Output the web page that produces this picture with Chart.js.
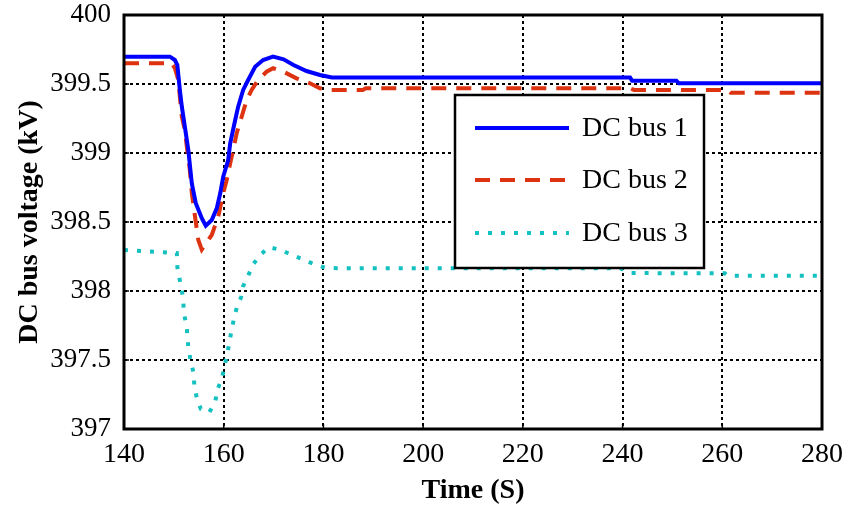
<!DOCTYPE html>
<html><head><meta charset="utf-8">
<script src="https://cdn.jsdelivr.net/npm/chart.js@4.4.1/dist/chart.umd.min.js"></script>
<style>html,body{margin:0;padding:0;background:#fff}#wrap{width:848px;height:508px}</style>
</head><body><div id="wrap"><canvas id="c" width="848" height="508"></canvas></div>
<script>
const seriesLabels = ['DC bus 1', 'DC bus 2', 'DC bus 3'];
const xTitle = 'Time (S)';
const yTitle = 'DC bus voltage (kV)';
const xTicks = [140, 160, 180, 200, 220, 240, 260, 280];
const yTicks = [397, 397.5, 398, 398.5, 399, 399.5, 400];

const bus1Time = [140, 149.2, 150.2, 150.7, 151.2, 151.6, 152.2, 152.9, 153.6, 154.4, 155.6, 156.4, 157.6, 158.6, 159.3, 159.9, 160.9, 161.3, 162.3, 162.9, 163.9, 164.9, 166.3, 167.9, 169.9, 172.0, 174.0, 176.6, 179.3, 181.7, 241.5, 241.9, 250.8, 251.3, 280];
const bus1Voltage = [399.698, 399.698, 399.674, 399.638, 399.457, 399.336, 399.191, 399.022, 398.780, 398.636, 398.527, 398.473, 398.514, 398.599, 398.708, 398.828, 398.949, 399.070, 399.239, 399.336, 399.457, 399.529, 399.625, 399.674, 399.698, 399.679, 399.638, 399.594, 399.565, 399.547, 399.547, 399.524, 399.524, 399.505, 399.505];

const bus2Time = [140, 149.6, 150.2, 150.9, 151.2, 151.6, 152.2, 152.6, 153.2, 153.6, 154.2, 154.9, 155.6, 157.6, 158.9, 159.9, 160.6, 161.3, 161.9, 162.6, 163.6, 164.6, 165.6, 166.9, 168.6, 169.9, 172.0, 174.6, 177.3, 179.3, 181.3, 187.9, 188.5, 241.5, 242.3, 261.2, 261.7, 280];
const bus2Voltage = [399.650, 399.650, 399.614, 399.529, 399.408, 399.263, 399.167, 399.046, 398.877, 398.710, 398.551, 398.370, 398.300, 398.406, 398.538, 398.708, 398.804, 398.925, 399.022, 399.143, 399.263, 399.384, 399.457, 399.529, 399.589, 399.614, 399.589, 399.541, 399.505, 399.469, 399.457, 399.457, 399.469, 399.469, 399.457, 399.457, 399.437, 399.437];

const bus3Time = [140, 150.6, 150.7, 151.1, 151.6, 151.9, 152.0, 152.6, 152.7, 153.0, 153.4, 154.0, 154.1, 154.6, 155.4, 157.1, 158.3, 158.7, 159.6, 160.1, 160.6, 161.1, 161.5, 162.0, 162.6, 163.5, 163.9, 164.9, 165.8, 167.3, 169.1, 171.6, 173.6, 175.8, 178.0, 180.3, 182.7, 239.5, 241.5, 260.5, 261.1, 280];
const bus3Voltage = [398.297, 398.275, 398.174, 398.094, 398.007, 397.925, 397.833, 397.749, 397.654, 397.572, 397.486, 397.401, 397.312, 397.225, 397.145, 397.121, 397.196, 397.283, 397.362, 397.444, 397.529, 397.616, 397.703, 397.790, 397.877, 397.957, 398.036, 398.109, 398.188, 398.261, 398.317, 398.297, 398.261, 398.232, 398.196, 398.169, 398.165, 398.165, 398.130, 398.128, 398.111, 398.111];

const FONT = "'Liberation Serif', 'Times New Roman', serif";

function pts(t, v) { return t.map((x, i) => ({ x: x, y: v[i] })); }

const framePlugin = {
  id: 'frame',
  afterDatasetsDraw(chart) {
    const { ctx, chartArea: a, scales } = chart;
    ctx.save();
    ctx.strokeStyle = '#000';
    ctx.lineWidth = 1.5;
    ctx.setLineDash([]);
    xTicks.forEach(v => {
      const x = scales.x.getPixelForValue(v);
      ctx.beginPath(); ctx.moveTo(x, a.bottom); ctx.lineTo(x, a.bottom - 5); ctx.stroke();
    });
    yTicks.forEach(v => {
      const y = scales.y.getPixelForValue(v);
      ctx.beginPath(); ctx.moveTo(a.left, y); ctx.lineTo(a.left + 5, y); ctx.stroke();
    });
    ctx.lineWidth = 3;
    ctx.strokeRect(a.left, a.top, a.right - a.left, a.bottom - a.top);
    // legend box
    const bx = 455, by = 95, bw = 249, bh = 173;
    ctx.fillStyle = '#fff';
    ctx.fillRect(bx, by, bw, bh);
    ctx.lineWidth = 2.5;
    ctx.strokeStyle = '#000';
    ctx.strokeRect(bx, by, bw, bh);
    const rows = [128, 180, 233];
    chart.data.datasets.forEach((ds, i) => {
      ctx.save();
      ctx.strokeStyle = ds.borderColor;
      ctx.lineWidth = ds.borderWidth;
      ctx.setLineDash(ds.borderDash || []);
      ctx.beginPath(); ctx.moveTo(475, rows[i]); ctx.lineTo(569, rows[i]); ctx.stroke();
      ctx.restore();
      ctx.fillStyle = '#000';
      ctx.font = '28px ' + FONT;
      ctx.textBaseline = 'middle';
      ctx.textAlign = 'left';
      ctx.fillText(ds.label, 582, rows[i] + 1);
    });
    ctx.restore();
  }
};

new Chart(document.getElementById('c'), {
  type: 'line',
  data: {
    datasets: [
      { label: seriesLabels[0], data: pts(bus1Time, bus1Voltage), borderColor: '#0000ff', borderWidth: 4, pointRadius: 0, tension: 0, fill: false },
      { label: seriesLabels[1], data: pts(bus2Time, bus2Voltage), borderColor: '#dd3311', borderWidth: 4, borderDash: [15, 10], pointRadius: 0, tension: 0, fill: false },
      { label: seriesLabels[2], data: pts(bus3Time, bus3Voltage), borderColor: '#14c0c0', borderWidth: 4, borderDash: [4, 9], pointRadius: 0, tension: 0, fill: false }
    ]
  },
  options: {
    responsive: false,
    animation: false,
    events: [],
    layout: { padding: { top: 15, right: 26, left: 0, bottom: 0 } },
    plugins: { legend: { display: false }, tooltip: { enabled: false } },
    scales: {
      x: {
        type: 'linear', min: 140, max: 280,
        afterBuildTicks: s => { s.ticks = xTicks.map(v => ({ value: v })); },
        afterFit: s => { s.height = 79; s.paddingLeft = 0; s.paddingRight = 0; },
        ticks: { color: '#000', font: { family: FONT, size: 28 }, padding: 9, maxRotation: 0, callback: v => String(v) },
        grid: { color: '#000', lineWidth: 2, drawTicks: false },
        border: { display: false, dash: [3, 3] },
        title: { display: true, text: xTitle, color: '#000', font: { family: FONT, size: 28, weight: 'bold' }, padding: { top: 0, bottom: 0 } }
      },
      y: {
        type: 'linear', min: 397, max: 400,
        afterBuildTicks: s => { s.ticks = yTicks.map(v => ({ value: v })); },
        afterFit: s => { s.width = 124; s.paddingTop = 0; s.paddingBottom = 0; },
        ticks: { color: '#000', font: { family: FONT, size: 27 }, padding: 13, callback: v => String(+(+v).toFixed(1)) },
        grid: { color: '#000', lineWidth: 2, drawTicks: false },
        border: { display: false, dash: [3, 3] },
        title: { display: true, text: yTitle, color: '#000', font: { family: FONT, size: 28, weight: 'bold' }, padding: { top: 13, bottom: 0 } }
      }
    }
  },
  plugins: [framePlugin]
});
</script></body></html>
